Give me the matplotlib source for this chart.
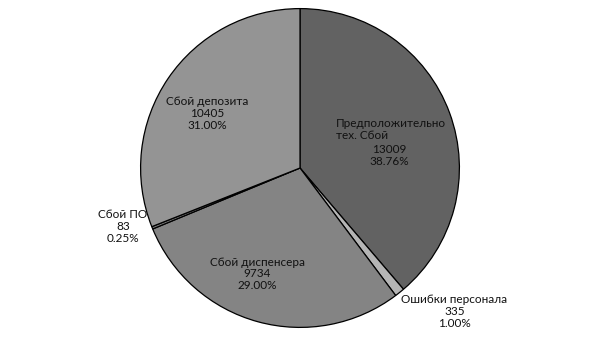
import matplotlib
matplotlib.use("Agg")
import matplotlib.pyplot as plt

# data
categories = ["Предположительно\nтех. Сбой", "Ошибки персонала", "Сбой диспенсера", "Сбой ПО", "Сбой депозита"]
counts = [13009, 335, 9734, 83, 10405]
percents = ["38.76%", "1.00%", "29.00%", "0.25%", "31.00%"]

colors = ["#626262", "#b5b5b5", "#848484", "#7a7a7a", "#949494"]

plt.rcParams["font.family"] = ["Lato", "DejaVu Sans"]

W, H = 605, 340
cx, cy, r = 300, 168, 161

fig = plt.figure(figsize=(W / 100, H / 100), dpi=100)
ax = fig.add_axes([(cx - r) / W, (H - cy - r) / H, 2 * r / W, 2 * r / H])

ax.pie(counts, colors=colors, startangle=90, counterclock=False, radius=1,
       wedgeprops=dict(edgecolor="black", linewidth=0.9))
ax.set_xlim(-1.01, 1.01)
ax.set_ylim(-1.01, 1.01)
ax.set_aspect("equal")
ax.axis("off")


def px(x, y):
    return (x - cx) / r, (cy - y) / r


# label centres (pixel positions from the reference)
label_pos = [(390, 141), (456, 313), (257, 275), (121, 227), (206, 113)]

fs = 8.5
ls = 1.08
for i, (name, n, p) in enumerate(zip(categories, counts, percents)):
    x, y = px(*label_pos[i])
    if i == 0:
        # two left-aligned name lines, then centred numbers
        lx, ly = px(336, 129)
        ax.text(lx, ly, name, ha="left", va="center", fontsize=fs,
                linespacing=ls, color="#111111")
        ax.text(x, ly - 2.05 * 12.8 / r, f"{n}\n{p}", ha="center", va="center",
                fontsize=fs, linespacing=ls, color="#111111")
    else:
        ax.text(x, y, f"{name}\n{n}\n{p}", ha="center", va="center",
                fontsize=fs, linespacing=ls, color="#111111")

fig.savefig("out.png", dpi=100)
